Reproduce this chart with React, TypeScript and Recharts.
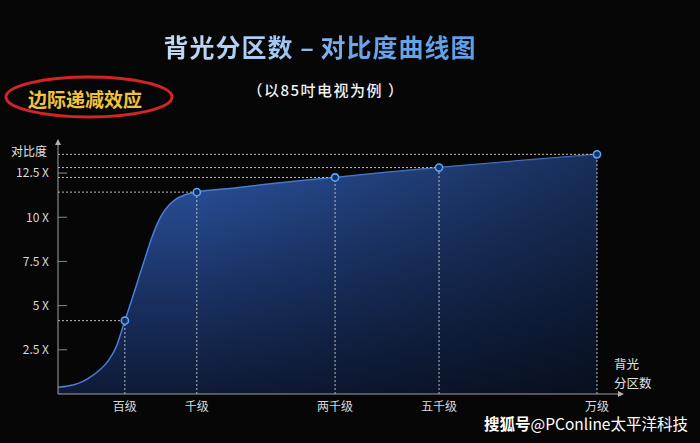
import React from 'react';
import { ComposedChart, Area, Scatter, XAxis, YAxis, ReferenceLine, ReferenceDot } from 'recharts';

// Tier categories (backlight zone counts) and their contrast values
const tierLabels = ['百级', '千级', '两千级', '五千级', '万级'];
const tierPos = [11.9, 24.7, 49.3, 67.8, 95.9];
const tierContrast = [4.15, 11.42, 12.25, 12.81, 13.56];

// Curve samples (position along axis, contrast)
const curvePos = [0, 1.8, 3.6, 5.4, 7.2, 9.0, 10.4, 11.3, 11.9, 13.1, 14.3, 15.5, 16.7, 17.8, 19.0, 20.8, 22.6, 24.7, 31, 37, 43, 49.3, 58.5, 67.8, 81.9, 95.9];
const curveContrast = [0.38, 0.45, 0.6, 0.89, 1.3, 1.9, 2.7, 3.55, 4.15, 5.3, 6.5, 7.7, 8.85, 9.72, 10.4, 10.98, 11.27, 11.42, 11.64, 11.86, 12.06, 12.25, 12.54, 12.81, 13.19, 13.56];

const yTicks = [2.5, 5, 7.5, 10, 12.5];
const yTickLabels = ['2.5 X', '5 X', '7.5 X', '10 X', '12.5 X'];

const X_MAX = 100;
const Y_MAX = 14.2;

const curveData = curvePos.map((x, i) => ({ x, y: curveContrast[i] }));
const tierData = tierPos.map((x, i) => ({ x, y: tierContrast[i], label: tierLabels[i] }));

const FONT = '"Noto Sans CJK SC", "Noto Sans", sans-serif';

const YTick = (props: any) => {
  const { x, y, payload } = props;
  const idx = yTicks.indexOf(payload.value);
  const axisX = x + 9;
  return (
    <g>
      <line x1={axisX} x2={axisX + 9} y1={y} y2={y} stroke="#8a8a8a" strokeWidth={1} />
      <text x={x} y={y} dy="0.36em" textAnchor="end" fill="#d8d8d8" fontSize={12} fontFamily={FONT}>
        {yTickLabels[idx]}
      </text>
    </g>
  );
};

const XTick = (props: any) => {
  const { x, y, payload } = props;
  const idx = tierPos.indexOf(payload.value);
  return (
    <text x={x} y={y} dy="0.71em" textAnchor="middle" fill="#d8d8d8" fontSize={12} fontFamily={FONT}>
      {tierLabels[idx]}
    </text>
  );
};

const PointShape = (props: any) => {
  const { cx, cy } = props;
  return <circle cx={cx} cy={cy} r={3.6} fill="#16305f" stroke="#5aa6ff" strokeWidth={1.6} />;
};

const ArrowUp = (props: any) => {
  const { cx, cy } = props;
  return <path d={`M${cx - 3},${cy + 2} L${cx},${cy - 4} L${cx + 3},${cy + 2} Z`} fill="#b0b0b0" />;
};
const ArrowRight = (props: any) => {
  const { cx, cy } = props;
  return <path d={`M${cx - 2},${cy - 3} L${cx + 4},${cy} L${cx - 2},${cy + 3} Z`} fill="#b0b0b0" />;
};

const abs = (extra: React.CSSProperties): React.CSSProperties => ({
  position: 'absolute',
  fontFamily: FONT,
  whiteSpace: 'nowrap',
  ...extra,
});

export default function App() {
  return (
    <div style={{ position: 'absolute', left: 0, top: 0, width: 700, height: 443, background: '#060606', overflow: 'hidden' }}>
      <ComposedChart
        width={700}
        height={443}
        data={curveData}
        margin={{ top: 143, right: 80, bottom: 0, left: 0 }}
      >
        <defs>
          <linearGradient id="areaV" x1="0" y1="0" x2="0" y2="1">
            <stop offset="0%" stopColor="#2c55a3" stopOpacity={1} />
            <stop offset="55%" stopColor="#1a3366" stopOpacity={1} />
            <stop offset="100%" stopColor="#0e1a36" stopOpacity={1} />
          </linearGradient>
          <linearGradient id="areaH" x1="0" y1="0" x2="1" y2="0">
            <stop offset="0%" stopColor="#000" stopOpacity={0} />
            <stop offset="25%" stopColor="#000" stopOpacity={0} />
            <stop offset="100%" stopColor="#000" stopOpacity={0.45} />
          </linearGradient>
        </defs>
        <XAxis
          dataKey="x"
          type="number"
          domain={[0, X_MAX]}
          ticks={tierPos}
          tick={<XTick />}
          tickLine={false}
          tickSize={0}
          tickMargin={8}
          height={49}
          axisLine={{ stroke: '#a0a0a0', strokeWidth: 1 }}
          allowDataOverflow
        />
        <YAxis
          type="number"
          domain={[0, Y_MAX]}
          ticks={yTicks}
          tick={<YTick />}
          tickLine={false}
          tickSize={0}
          tickMargin={9}
          width={58}
          axisLine={{ stroke: '#a0a0a0', strokeWidth: 1 }}
          allowDataOverflow
        />
        <Area
          type="monotone"
          dataKey="y"
          stroke="#4a7ed8"
          strokeWidth={1.5}
          fill="url(#areaV)"
          fillOpacity={1}
          isAnimationActive={false}
          dot={false}
          activeDot={false}
        />
        <Area
          type="monotone"
          dataKey="y"
          stroke="none"
          fill="url(#areaH)"
          fillOpacity={1}
          isAnimationActive={false}
          dot={false}
          activeDot={false}
        />
        {tierData.map((d) => (
          <ReferenceLine
            key={'h' + d.label}
            segment={[{ x: 0, y: d.y }, { x: d.x, y: d.y }]}
            stroke="#bdbdbd"
            strokeDasharray="2 2"
            strokeWidth={1}
          />
        ))}
        {tierData.map((d) => (
          <ReferenceLine
            key={'v' + d.label}
            segment={[{ x: d.x, y: 0 }, { x: d.x, y: d.y }]}
            stroke="#bdbdbd"
            strokeDasharray="2 2"
            strokeWidth={1}
          />
        ))}
        <Scatter data={tierData} dataKey="y" shape={<PointShape />} isAnimationActive={false} />
        <ReferenceDot x={0} y={Y_MAX} r={3} shape={<ArrowUp />} ifOverflow="visible" />
        <ReferenceDot x={X_MAX} y={0} r={3} shape={<ArrowRight />} ifOverflow="visible" />
      </ComposedChart>

      <div
        style={abs({
          left: 70,
          top: 31,
          width: 500,
          textAlign: 'center',
          fontSize: 25,
          lineHeight: '30px',
          fontWeight: 700,
          letterSpacing: 1,
        })}
      >
        <span style={{ background: 'linear-gradient(90deg, #c4daf6 0%, #a6c9f3 35%, #6aa6ec 60%, #5f9ee9 100%)', WebkitBackgroundClip: 'text', backgroundClip: 'text', color: 'transparent' }}>
          背光分区数 <span style={{ letterSpacing: 0 }}>–</span> 对比度曲线图
        </span>
      </div>
      <div style={abs({ left: 176, top: 80, width: 300, textAlign: 'center', fontSize: 15, lineHeight: '20px', color: '#f2f2f2', fontWeight: 500, letterSpacing: 1.5 })}>
        （以85吋电视为例 ）
      </div>

      <svg style={{ position: 'absolute', left: 0, top: 0 }} width={200} height={130}>
        <ellipse cx={89} cy={97} rx={83} ry={20} fill="none" stroke="#d42424" strokeWidth={3} />
      </svg>
      <div style={abs({ left: 28, top: 86, fontSize: 19, lineHeight: '26px', color: '#f2c23e', fontWeight: 700 })}>
        边际递减效应
      </div>

      <div style={abs({ left: 11, top: 143, fontSize: 12, lineHeight: '16px', color: '#e0e0e0' })}>对比度</div>
      <div style={abs({ left: 614, top: 356, fontSize: 12.5, lineHeight: '16px', color: '#e0e0e0' })}>背光</div>
      <div style={abs({ left: 614, top: 375, fontSize: 12.5, lineHeight: '16px', color: '#e0e0e0' })}>分区数</div>

      <div style={abs({ left: 484, top: 412, fontSize: 15.5, lineHeight: '22px', color: '#ffffff' })}>
        <span style={{ fontWeight: 700 }}>搜狐号</span>@PConline太平洋科技
      </div>
    </div>
  );
}
